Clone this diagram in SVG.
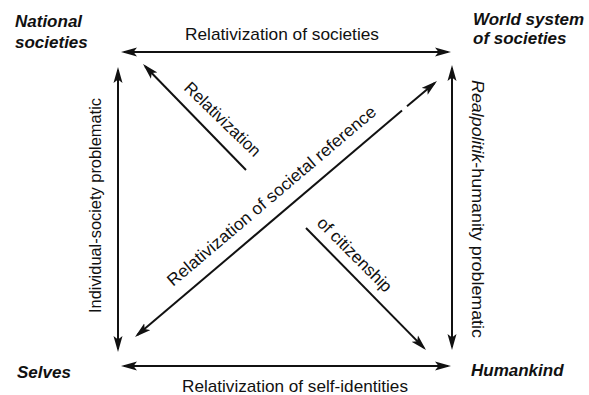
<svg xmlns="http://www.w3.org/2000/svg" width="589" height="395" viewBox="0 0 589 395">
  <style>
    .lbl { font-family: "Liberation Sans", Arial, Helvetica, sans-serif; font-size: 17px; fill: #111; }
    .node { font-family: "Liberation Sans", Arial, Helvetica, sans-serif; font-size: 17px; font-weight: bold; font-style: italic; fill: #111; }
    .it { font-style: italic; }
    .conn { stroke: #111; stroke-width: 2; fill: none; }
  </style>
  <defs>
    <marker id="arrow" viewBox="0 0 16 10" markerWidth="16" markerHeight="10" refX="13" refY="5" markerUnits="userSpaceOnUse" orient="auto-start-reverse">
      <path d="M0,0.5 L16,5 L0,9.5 L3.5,5 Z" fill="#111"/>
    </marker>
  </defs>
  <rect width="589" height="395" fill="#fff"/>

  <!-- corner nodes -->
  <g id="national-societies">
    <text class="node" x="15" y="27">National</text>
    <text class="node" x="15" y="48">societies</text>
  </g>
  <g id="world-system">
    <text class="node" x="473" y="25">World system</text>
    <text class="node" x="473" y="44">of societies</text>
  </g>
  <g id="selves">
    <text class="node" x="17" y="378">Selves</text>
  </g>
  <g id="humankind">
    <text class="node" x="471" y="376">Humankind</text>
  </g>

  <!-- connectors -->
  <g id="connectors">
    <line class="conn" x1="124" y1="52" x2="448" y2="52" marker-start="url(#arrow)" marker-end="url(#arrow)"/>
    <line class="conn" x1="124" y1="366" x2="448" y2="366" marker-start="url(#arrow)" marker-end="url(#arrow)"/>
    <line class="conn" x1="118" y1="70" x2="118" y2="349" marker-start="url(#arrow)" marker-end="url(#arrow)"/>
    <line class="conn" x1="452" y1="68" x2="452" y2="347" marker-start="url(#arrow)" marker-end="url(#arrow)"/>
    <line class="conn" x1="246" y1="170" x2="145.1" y2="66.2" marker-end="url(#arrow)"/>
    <line class="conn" x1="306" y1="228" x2="423.9" y2="347.9" marker-end="url(#arrow)"/>
    <line class="conn" x1="137.3" y1="335.1" x2="402" y2="110.6" marker-start="url(#arrow)"/>
    <line class="conn" x1="407" y1="106.3" x2="434.7" y2="82.9" marker-end="url(#arrow)"/>

    <!-- connector labels -->
    <text class="lbl" x="185" y="40" textLength="194" lengthAdjust="spacingAndGlyphs">Relativization of societies</text>
    <text class="lbl" x="182" y="392" textLength="226" lengthAdjust="spacingAndGlyphs">Relativization of self-identities</text>
    <text class="lbl" transform="translate(101,313) rotate(-90)" textLength="215" lengthAdjust="spacingAndGlyphs">Individual-society problematic</text>
    <text class="lbl" transform="translate(472,80) rotate(90)" textLength="258" lengthAdjust="spacingAndGlyphs"><tspan class="it">Realpolitik</tspan>-humanity problematic</text>
    <text class="lbl" transform="translate(183,89) rotate(44)" textLength="99" lengthAdjust="spacingAndGlyphs">Relativization</text>
    <text class="lbl" transform="translate(316,224) rotate(45)" textLength="98" lengthAdjust="spacingAndGlyphs">of citizenship</text>
    <text class="lbl" transform="translate(173,287) rotate(-40.3)" textLength="268" lengthAdjust="spacingAndGlyphs">Relativization of societal reference</text>
  </g>
</svg>
